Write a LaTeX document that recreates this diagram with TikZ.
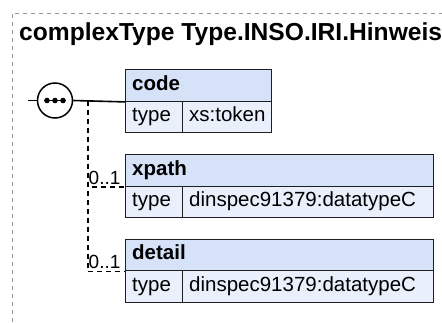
\documentclass[tikz,border=0pt]{standalone}
\usepackage{fontspec}
\setmainfont{Liberation Sans}
\definecolor{hdrfill}{RGB}{214,226,248}
\definecolor{rowfill}{RGB}{233,240,252}
\definecolor{boxline}{RGB}{30,30,30}
\definecolor{bordergray}{RGB}{150,150,150}
\tikzset{
  cell/.style={draw=boxline, line width=1.4pt, anchor=north west, minimum height=31.5pt,
    inner xsep=6.5pt, inner ysep=0pt, text height=14.5pt, text depth=4.5pt, align=left,
    font=\fontsize{20.5}{20.5}\selectfont},
  hdr/.style={cell, fill=hdrfill, font=\bfseries\fontsize{20.5}{20.5}\selectfont},
  row/.style={cell, fill=rowfill},
  conn/.style={draw=black, line width=1.6pt},
  optconn/.style={draw=black, line width=1.6pt, dash pattern=on 5pt off 4pt},
  mult/.style={anchor=south west, inner sep=1pt, font=\fontsize{19}{19}\selectfont},
  outline/.style={draw=bordergray, line width=0.8pt, dash pattern=on 4pt off 4pt}
}
\begin{document}
\begin{tikzpicture}[x=1pt,y=-1pt]
\useasboundingbox (0,0) rectangle (442,322);
\draw[outline] (12,322) -- (12,13) -- (442,13);
\node[anchor=base west, inner sep=0pt, font=\bfseries\fontsize{24.6}{24.6}\selectfont] (title) at (19,40) {complexType Type.INSO.IRI.Hinweis};
% code
\node[hdr, text width=133pt] (codeh) at (125,69) {code};
\node[row, text width=44pt] (codet) at (125,100.5) {type};
\node[row, text width=76pt] (codev) at (182,100.5) {xs:token};
% xpath
\node[hdr, text width=295pt] (xpathh) at (125,154) {xpath};
\node[row, text width=44pt] (xpatht) at (125,185.5) {type};
\node[row, text width=238pt] (xpathv) at (182,185.5) {dinspec91379:datatypeC};
% detail
\node[hdr, text width=295pt] (detailh) at (125,238.5) {detail};
\node[row, text width=44pt] (detailt) at (125,270) {type};
\node[row, text width=238pt] (detailv) at (182,270) {dinspec91379:datatypeC};
% sequence
\coordinate (start) at (28,100.5);
\node[circle, draw=black, line width=1.5pt, fill=white, minimum size=35pt, inner sep=0pt] (seq) at (55,100.5) {};
\draw[line width=1.5pt] ([xshift=-11pt]seq.center) -- ([xshift=11pt]seq.center);
\fill ([xshift=-8pt]seq.center) circle (2.8pt) (seq.center) circle (2.8pt) ([xshift=8pt]seq.center) circle (2.8pt);
\draw[conn] (start) -- (seq.west);
\draw[conn] (seq.east) -- (codeh.south west);
\coordinate (branch) at (88,100.5);
\draw[optconn] (branch) |- (xpathh.south west);
\draw[optconn] (branch) |- (detailh.south west);
\node[mult] (m1) at (87.5,185.5) {0..1};
\node[mult] (m2) at (87.5,270) {0..1};
\end{tikzpicture}
\end{document}
